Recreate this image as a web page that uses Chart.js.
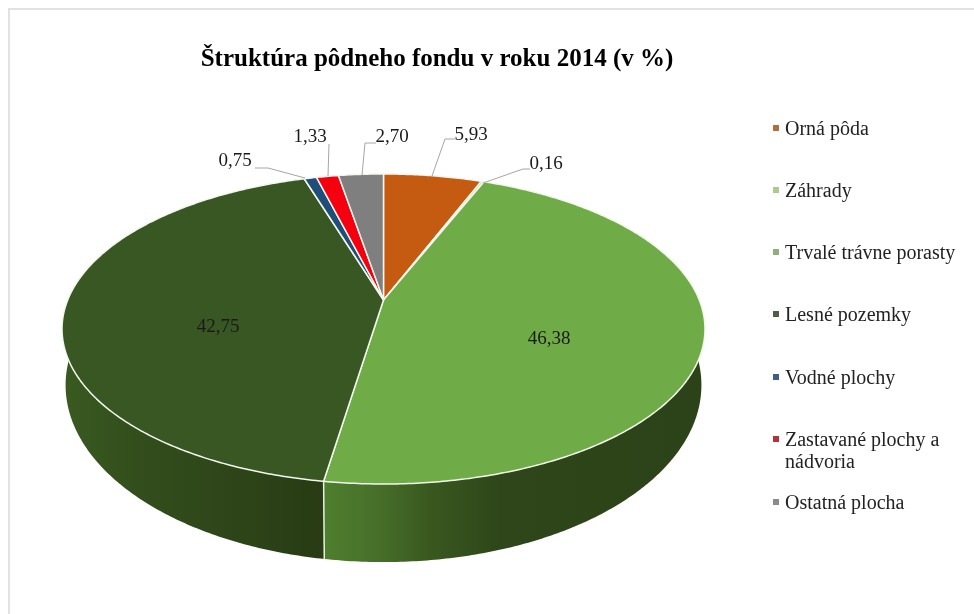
<!DOCTYPE html>
<html><head><meta charset="utf-8">
<style>html,body{margin:0;padding:0;background:#fff}canvas{display:block}</style>
<script src="https://cdn.jsdelivr.net/npm/chart.js@4"></script>
</head><body>
<canvas id="c" width="974" height="614"></canvas>
<script>
const categories = ["Orná pôda","Záhrady","Trvalé trávne porasty","Lesné pozemky","Vodné plochy","Zastavané plochy a nádvoria","Ostatná plocha"];
const values = [5.93,0.16,46.38,42.75,0.75,1.33,2.70];
const valueLabels = ["5,93","0,16","46,38","42,75","0,75","1,33","2,70"];
const titleText = "Štruktúra pôdneho fondu v roku 2014 (v %)";
const colors = ["#C55A11","#C5D8A0","#6FAC47","#385723","#1F4E79","#F5000F","#7F7F7F"];
const legendColors = ["#B0703C","#A9CC8E","#8FB07A","#4C5F42","#3F5F80","#B8303A","#8A8A8A"];
const SERIF = '"Liberation Serif","Times New Roman",serif';

// projection of the pie disc (perspective tilt)
const topDisc = {x0:383.5,y0:300,A:149.6,B:315.8,k:0.187};
const lowDisc = {x0:383.5,y0:352,A:170.8,B:312.3,k:0.187};
function proj(d,a){const u=Math.cos(a),v=Math.sin(a),w=1-d.k*v;return [d.x0+d.B*u/w,d.y0+d.A*v/w];}

// placement of labels: [text x centre, text y centre, leader points...]
const labelPlace = [
 {x:471,y:135,lead:[[432,176],[445,139],[455,139]]},
 {x:546,y:164,lead:[[483,183],[523,169],[530,169]]},
 {x:549,y:339},
 {x:218,y:327},
 {x:235,y:161,lead:[[305,178],[268,168],[255,168]]},
 {x:310,y:137,lead:[[328,176],[329,144]]},
 {x:392,y:137,lead:[[362,175],[365,143],[376,143]]}
];
const legendRows = [[128],[190],[252],[314],[377],[439,461],[502]];
const legendLines = [["Orná pôda"],["Záhrady"],["Trvalé trávne porasty"],["Lesné pozemky"],["Vodné plochy"],["Zastavané plochy a","nádvoria"],["Ostatná plocha"]];

const disc3d = {
 id:'disc3d',
 beforeDraw(chart){
  const c=chart.ctx;
  c.save();c.fillStyle='#fff';c.fillRect(0,0,974,614);
  c.strokeStyle='#e2e2e2';c.lineWidth=2;
  c.beginPath();c.moveTo(9,614);c.lineTo(9,9);c.lineTo(974,9);c.stroke();
  c.restore();
 },
 beforeDatasetDraw(chart){
  const c=chart.ctx, arcs=chart.getDatasetMeta(0).data;
  const path=(s,e,d,rev)=>{const n=Math.max(2,Math.ceil((e-s)/0.01));const p=[];
    for(let i=0;i<=n;i++)p.push(proj(d,s+(e-s)*i/n));return rev?p.reverse():p;};
  // side walls
  const grads=[
    null,null,
    [[325,'#4F7E2E'],[375,'#47702A'],[430,'#39581F'],[500,'#2E4619'],[705,'#2C4219']],
    [[65,'#3A5A21'],[130,'#334F1C'],[210,'#2F471A'],[325,'#283B14']]
  ];
  arcs.forEach((arc,i)=>{
    const pts=path(arc.startAngle,arc.endAngle,topDisc).concat(path(arc.startAngle,arc.endAngle,lowDisc,true));
    c.beginPath();pts.forEach((p,j)=>j?c.lineTo(p[0],p[1]):c.moveTo(p[0],p[1]));c.closePath();
    if(grads[i]){const g=c.createLinearGradient(grads[i][0][0],0,grads[i][grads[i].length-1][0],0);
      const x0=grads[i][0][0],x1=grads[i][grads[i].length-1][0];
      grads[i].forEach(s=>g.addColorStop((s[0]-x0)/(x1-x0),s[1]));c.fillStyle=g;}
    else c.fillStyle=colors[i];
    c.fill();
  });
  // white seam on the front wall
  const seam=arcs[2].endAngle, a=proj(topDisc,seam), b=proj(lowDisc,seam);
  c.strokeStyle='#E8EFE0';c.lineWidth=1.5;c.beginPath();c.moveTo(a[0],a[1]);c.lineTo(b[0],b[1]);c.stroke();
  // top faces
  arcs.forEach((arc,i)=>{
    const pts=path(arc.startAngle,arc.endAngle,topDisc);
    c.beginPath();c.moveTo(topDisc.x0,topDisc.y0);pts.forEach(p=>c.lineTo(p[0],p[1]));c.closePath();
    c.fillStyle=colors[i];c.fill();
    c.strokeStyle='#F4F7EE';c.lineWidth=1.5;c.lineJoin='round';c.stroke();
  });
  return false;
 },
 afterDatasetsDraw(chart){
  const c=chart.ctx;
  c.save();
  c.strokeStyle='#A6A6A6';c.lineWidth=1;
  labelPlace.forEach(l=>{ if(!l.lead)return;
    c.beginPath();l.lead.forEach((p,j)=>j?c.lineTo(p[0],p[1]):c.moveTo(p[0],p[1]));c.stroke();});
  c.font='19px '+SERIF;c.fillStyle='#1a1a1a';c.textAlign='center';c.textBaseline='middle';
  valueLabels.forEach((t,i)=>c.fillText(t,labelPlace[i].x,labelPlace[i].y));
  // legend
  c.textAlign='left';
  c.font='20px '+SERIF;
  legendLines.forEach((lines,i)=>{
    const ys=legendRows[i];
    c.fillStyle=legendColors[i];c.fillRect(773,ys[0]-3,6,6);
    c.fillStyle='#222';
    lines.forEach((t,j)=>c.fillText(t,785,ys[j]+2));
  });
  c.restore();
 }
};

new Chart(document.getElementById('c'),{
 type:'pie',
 data:{labels:categories,datasets:[{data:values,backgroundColor:colors,borderColor:'#fff',borderWidth:1.5}]},
 options:{
  responsive:false,animation:false,
  layout:{padding:{top:45,right:100}},
  plugins:{
   legend:{display:false},tooltip:{enabled:false},
   title:{display:true,text:titleText,color:'#000',padding:0,align:'center',
          font:{family:SERIF,size:25,weight:'bold',lineHeight:1.2}}
  }
 },
 plugins:[disc3d]
});
</script>
</body></html>
